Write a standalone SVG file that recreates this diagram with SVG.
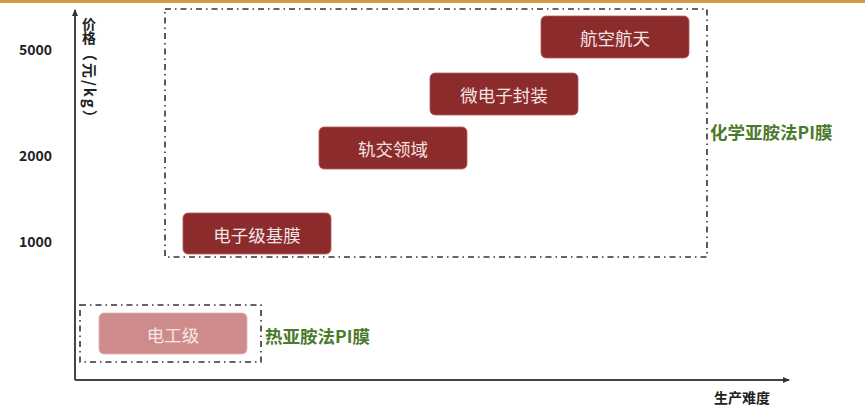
<svg xmlns="http://www.w3.org/2000/svg" width="865" height="411" viewBox="0 0 865 411">
<style>
.lbl{font-family:"Noto Sans CJK SC","Liberation Sans",sans-serif;font-weight:bold;font-size:14px;fill:#222}
.box{fill:#8B2B2B;stroke:#B85A5A;stroke-width:0.8}
.bt{font-family:"Noto Sans CJK SC",sans-serif;font-size:17.5px;fill:#F3E4E4;text-anchor:middle;dominant-baseline:central}
.grp{fill:none;stroke:#333;stroke-width:1.6;stroke-dasharray:6 4 1.5 4}
.green{font-family:"Noto Sans CJK SC",sans-serif;font-weight:bold;font-size:17.5px;fill:#4B7A2B}
</style>
<defs>
<marker id="ah" markerWidth="8" markerHeight="8" refX="6" refY="4" orient="auto" markerUnits="userSpaceOnUse">
<path d="M0,1 L7,4 L0,7 Z" fill="#333"/>
</marker>
</defs>
<rect x="0" y="0" width="865" height="3" fill="#D69A48"/>
<g id="axes">
<line x1="75" y1="380" x2="75" y2="10" stroke="#444" stroke-width="2" marker-end="url(#ah)"/>
<line x1="75" y1="380" x2="789" y2="380" stroke="#444" stroke-width="2" marker-end="url(#ah)"/>
</g>
<g id="ylabels">
<text class="lbl" x="19" y="55">5000</text>
<text class="lbl" x="19" y="161">2000</text>
<text class="lbl" x="19" y="247">1000</text>
</g>
<g id="ytitle">
<text class="lbl" x="89" y="17" style="writing-mode:tb;font-size:14px" text-anchor="start">价格</text>
<text class="lbl" style="font-size:15px;letter-spacing:2px" transform="translate(84,46) rotate(90)">（元/kg）</text>
</g>
<text class="lbl" x="714" y="403">生产难度</text>
<g id="chem-group">
<rect class="grp" x="165" y="9" width="542" height="248"/>
<text class="green" x="710" y="139">化学亚胺法PI膜</text>
</g>
<g id="thermal-group">
<rect class="grp" x="80" y="305" width="181" height="57"/>
<text class="green" x="265" y="343">热亚胺法PI膜</text>
</g>
<g id="n-aerospace">
<rect class="box" x="541" y="16" width="148" height="42" rx="5"/>
<text class="bt" x="615" y="37">航空航天</text>
</g>
<g id="n-micro">
<rect class="box" x="430" y="73" width="148" height="42" rx="5"/>
<text class="bt" x="504" y="94">微电子封装</text>
</g>
<g id="n-rail">
<rect class="box" x="319" y="127" width="148" height="42" rx="5"/>
<text class="bt" x="393" y="148">轨交领域</text>
</g>
<g id="n-elec">
<rect class="box" x="183" y="213" width="148" height="41" rx="5"/>
<text class="bt" x="257" y="234">电子级基膜</text>
</g>
<g id="n-electrician">
<rect x="99" y="313" width="148" height="41" rx="5" fill="#CE8B8B" stroke="#E0B0B0" stroke-width="0.8"/>
<text class="bt" x="173" y="334" style="fill:#F6E6E6">电工级</text>
</g>
</svg>
